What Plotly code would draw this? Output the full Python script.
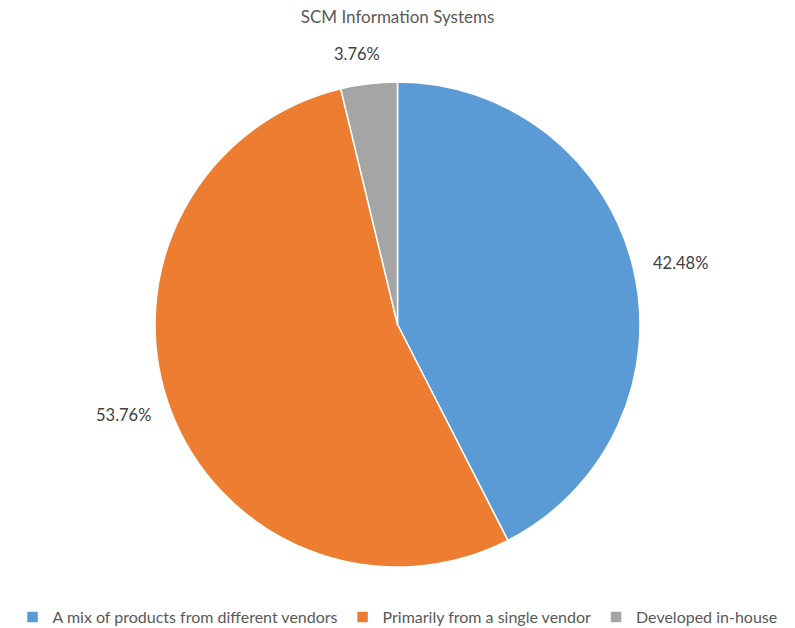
import math
import plotly.graph_objects as go

# Data
categories = ["A mix of products from different vendors",
              "Primarily from a single vendor",
              "Developed in-house"]
shares = [42.48, 53.76, 3.76]
colors = ["#5B9BD5", "#ED7D31", "#A5A5A5"]

# Figure geometry
W, H = 795, 628
M_T, M_B, M_L, M_R = 82, 61, 0, 0
plot_w = W - M_L - M_R
plot_h = H - M_T - M_B
radius = min(plot_w, plot_h) / 2
cx = M_L + plot_w / 2
cy = M_T + plot_h / 2

FONT = "Lato, 'Open Sans', sans-serif"
TEXT_COLOR = "#595959"

fig = go.Figure(go.Pie(
    labels=categories,
    values=shares,
    sort=False,
    direction="clockwise",
    rotation=0,
    marker=dict(colors=colors, line=dict(color="white", width=1.5)),
    textinfo="none",
    hoverinfo="skip",
    showlegend=True,
))

# Percentage labels placed outside each slice, along its mid angle
total = sum(shares)
start = 0.0
annotations = []
for val in shares:
    mid = (start + val / 2) / total * 2 * math.pi
    start += val
    sx, sy = math.sin(mid), -math.cos(mid)
    d = radius * 1.075
    px = cx + sx * d
    py = cy + sy * d
    xanchor = "left" if sx > 0.3 else ("right" if sx < -0.3 else "center")
    yanchor = "top" if sy > 0.5 else ("bottom" if sy < -0.5 else "middle")
    if xanchor == "center":
        px += sx * 80
    annotations.append(dict(
        x=(px - M_L) / plot_w, y=(H - M_B - py) / plot_h,
        xref="paper", yref="paper",
        text=f"{val:.2f}%", showarrow=False,
        xanchor=xanchor, yanchor=yanchor,
        font=dict(family=FONT, size=16.5, color="#404040"),
    ))

fig.update_layout(
    width=W, height=H,
    margin=dict(t=M_T, b=M_B, l=M_L, r=M_R),
    paper_bgcolor="white",
    plot_bgcolor="white",
    title=dict(text="SCM Information Systems", x=0.5, xanchor="center",
               y=1 - 17 / H, yanchor="middle", yref="container",
               font=dict(family=FONT, size=17, color=TEXT_COLOR)),
    legend=dict(orientation="h", x=0.5, xanchor="center",
                y=(H - 617) / H, yanchor="middle", yref="container",
                font=dict(family=FONT, size=16, color=TEXT_COLOR),
                itemwidth=30, traceorder="normal",
                itemclick=False, itemdoubleclick=False),
    annotations=annotations,
)

fig.write_html("out.html")
